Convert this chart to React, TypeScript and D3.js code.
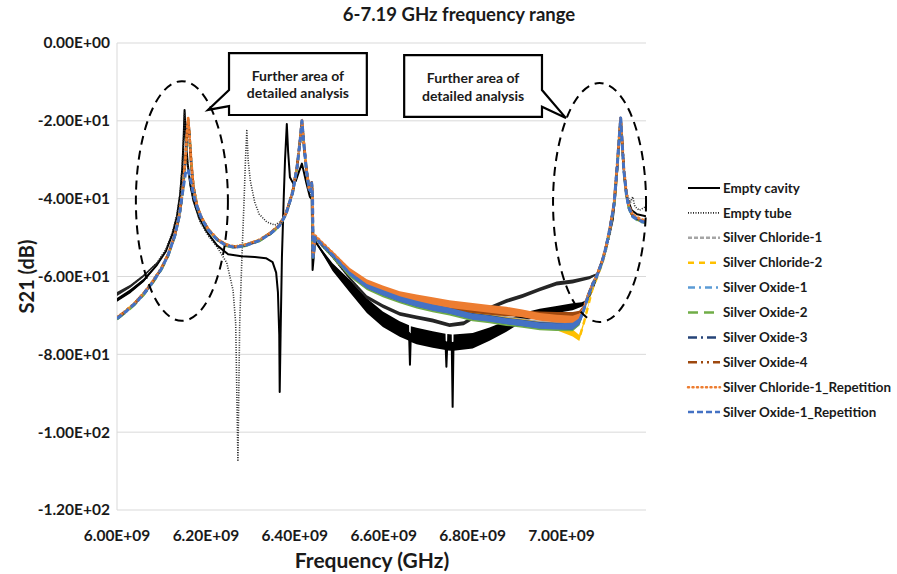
import React from "react";
import * as d3 from "d3";

const W = 897;
const H = 574;
const margin = { top: 43, right: 251, bottom: 64, left: 117 };

const title = "6-7.19 GHz frequency range";
const xTicks = [6.0, 6.2, 6.4, 6.6, 6.8, 7.0];
const yTicks = [0, -20, -40, -60, -80, -100, -120];

// frequency grid (GHz) shared by all the sample traces
const sampleFreq = [
  6.000, 6.020, 6.040, 6.060, 6.080, 6.100, 6.115, 6.130, 6.140, 6.148, 6.154, 6.158, 6.160, 6.163, 6.167,
  6.172, 6.180, 6.190, 6.205, 6.225, 6.245, 6.265, 6.290, 6.320, 6.345, 6.365, 6.380, 6.395, 6.405, 6.412,
  6.416, 6.420, 6.426, 6.432, 6.436, 6.438, 6.440, 6.441, 6.446, 6.450, 6.485, 6.524, 6.562, 6.598, 6.636,
  6.674, 6.710, 6.748, 6.800, 6.838, 6.876, 6.912, 6.951, 6.989, 7.025, 7.040, 7.050, 7.060, 7.070, 7.079,
  7.092, 7.101, 7.110, 7.118, 7.125, 7.130, 7.133, 7.136, 7.140, 7.146, 7.152, 7.160, 7.170, 7.180, 7.190,
];

// S21 (dB) for each sample, on sampleFreq
const silverChloride1 = [
  -70.7, -68.9, -66.9, -64.4, -61.4, -57.9, -54.4, -49.4, -44.4, -37.8, -29.8, -22.3, -19.6, -23.8, -30.8,
  -37.0, -41.9, -44.9, -47.9, -50.4, -51.9, -52.4, -51.9, -50.7, -48.9, -46.9, -43.9, -38.4, -31.9, -24.9,
  -20.0, -25.4, -32.4, -37.4, -37.9, -35.9, -39.9, -54.8, -49.8, -50.3, -54.2, -58.9, -62.0, -63.8, -65.3,
  -66.5, -67.5, -68.3, -69.6, -70.2, -71.0, -71.5, -72.2, -72.5, -72.6, -71.4, -68.4, -64.9, -61.9, -59.9,
  -55.9, -51.9, -46.9, -41.4, -31.9, -23.9, -19.3, -24.9, -32.4, -38.9, -42.4, -44.4, -45.2, -45.7, -46.1,
];
const silverChloride2 = [
  -70.6, -68.8, -66.8, -64.3, -61.3, -57.8, -54.3, -49.3, -44.3, -37.8, -29.8, -22.5, -19.6, -23.8, -30.8,
  -37.0, -41.8, -44.8, -47.8, -50.3, -51.8, -52.3, -51.8, -50.6, -48.8, -46.8, -43.8, -38.3, -31.8, -24.8,
  -20.0, -25.3, -32.3, -37.3, -37.8, -35.8, -39.8, -54.8, -49.8, -50.3, -54.3, -59.0, -62.3, -64.0, -65.6,
  -66.8, -67.8, -68.6, -70.0, -70.6, -71.3, -71.8, -72.5, -73.0, -74.5, -75.8, -72.0, -67.5, -63.0, -60.5,
  -56.5, -52.3, -47.3, -41.8, -32.3, -24.3, -19.5, -25.0, -32.5, -39.0, -42.5, -44.5, -45.3, -45.8, -46.2,
];
const silverOxide1 = [
  -70.9, -69.1, -67.1, -64.6, -61.6, -58.1, -54.6, -49.6, -44.6, -38.0, -30.0, -22.5, -20.0, -24.0, -31.0,
  -37.2, -42.0, -45.0, -48.0, -50.5, -52.0, -52.5, -52.0, -50.8, -49.0, -47.0, -44.0, -38.5, -32.0, -25.0,
  -20.2, -25.5, -32.5, -37.5, -38.0, -36.0, -40.0, -55.0, -50.0, -50.5, -54.6, -59.4, -62.6, -64.4, -66.0,
  -67.2, -68.2, -69.0, -70.5, -71.0, -71.7, -72.2, -72.8, -73.0, -73.0, -71.8, -68.7, -65.2, -62.2, -60.2,
  -56.2, -52.2, -47.2, -41.7, -32.2, -24.2, -19.5, -25.2, -32.7, -39.2, -42.7, -44.7, -45.5, -46.0, -46.4,
];
const silverOxide2 = [
  -71.0, -69.2, -67.2, -64.7, -61.7, -58.2, -54.7, -49.7, -44.7, -38.2, -30.2, -22.8, -20.2, -24.2, -31.2,
  -37.3, -42.1, -45.1, -48.1, -50.6, -52.1, -52.6, -52.1, -50.9, -49.1, -47.1, -44.1, -38.6, -32.1, -25.1,
  -20.3, -25.6, -32.6, -37.6, -38.1, -36.1, -40.1, -55.1, -50.1, -50.6, -54.9, -59.7, -62.9, -64.6, -66.2,
  -67.4, -68.4, -69.2, -70.7, -71.2, -71.9, -72.4, -73.0, -73.2, -73.2, -71.8, -68.6, -65.1, -62.1, -60.1,
  -56.1, -52.1, -47.1, -41.6, -32.1, -24.1, -19.6, -25.1, -32.6, -39.1, -42.6, -44.6, -45.4, -45.9, -46.3,
];
const silverOxide3 = [
  -70.8, -69.0, -67.0, -64.5, -61.5, -58.0, -54.5, -49.5, -44.5, -38.0, -30.0, -22.5, -19.8, -24.0, -31.0,
  -37.1, -42.0, -45.0, -48.0, -50.5, -52.0, -52.5, -52.0, -50.8, -49.0, -47.0, -44.0, -38.5, -32.0, -25.0,
  -20.0, -25.5, -32.5, -37.5, -38.0, -36.0, -40.0, -55.0, -50.0, -50.5, -54.5, -59.2, -62.4, -64.1, -65.7,
  -66.9, -67.9, -68.7, -70.2, -70.7, -71.4, -71.9, -72.5, -72.7, -72.7, -71.4, -68.4, -64.9, -61.9, -59.9,
  -55.9, -51.9, -46.9, -41.4, -31.9, -23.9, -19.3, -24.9, -32.4, -38.9, -42.4, -44.4, -45.2, -45.7, -46.1,
];
const silverOxide4 = [
  -70.6, -68.8, -66.8, -64.3, -61.3, -57.8, -54.3, -49.3, -44.3, -37.8, -29.8, -22.3, -19.7, -23.8, -30.8,
  -37.0, -41.8, -44.8, -47.8, -50.3, -51.8, -52.3, -51.8, -50.6, -48.8, -46.8, -43.8, -38.3, -31.8, -24.8,
  -20.0, -25.3, -32.3, -37.3, -37.8, -35.8, -39.8, -54.8, -49.8, -50.3, -54.0, -58.7, -61.8, -63.5, -65.0,
  -66.0, -66.9, -67.6, -68.6, -69.0, -69.4, -69.6, -69.8, -69.9, -70.0, -69.6, -67.8, -64.7, -61.8, -59.8,
  -55.8, -51.8, -46.8, -41.3, -31.8, -23.8, -19.3, -24.8, -32.3, -38.8, -42.3, -44.3, -45.1, -45.6, -46.0,
];
const silverChloride1Rep = [
  -70.5, -68.8, -66.8, -64.3, -61.3, -57.8, -54.3, -49.3, -44.3, -37.5, -29.5, -22.0, -19.3, -23.5, -30.5,
  -37.0, -41.8, -44.8, -47.8, -50.3, -51.8, -52.3, -51.8, -50.6, -48.8, -46.8, -43.8, -38.3, -31.8, -24.8,
  -19.8, -25.3, -32.3, -37.3, -37.8, -35.8, -39.8, -54.5, -49.5, -50.0, -53.9, -58.5, -61.5, -63.2, -64.7,
  -65.6, -66.3, -67.1, -67.8, -68.3, -68.8, -69.5, -70.4, -70.8, -71.1, -70.4, -68.0, -64.8, -61.8, -59.8,
  -55.8, -51.8, -46.8, -41.3, -31.5, -23.5, -19.0, -24.5, -32.0, -38.5, -42.0, -44.0, -44.8, -45.3, -45.8,
];
const silverOxide1Rep = [
  -70.8, -69.0, -67.0, -64.5, -61.5, -58.0, -54.5, -49.5, -44.5, -38.0, -33.5, -33.0, -32.5, -34.0, -36.0,
  -39.0, -42.0, -45.0, -48.0, -50.5, -52.0, -52.5, -52.0, -50.8, -49.0, -47.0, -44.0, -38.5, -32.0, -25.0,
  -20.0, -25.5, -32.5, -37.5, -38.0, -36.0, -40.0, -55.0, -50.0, -50.5, -54.5, -59.3, -62.5, -64.2, -65.8,
  -67.0, -68.0, -68.8, -70.3, -70.8, -71.5, -72.0, -72.6, -72.8, -72.8, -71.5, -68.5, -65.0, -62.0, -60.0,
  -56.0, -52.0, -47.0, -41.5, -32.0, -24.0, -19.3, -25.0, -32.5, -39.0, -42.5, -44.5, -45.3, -45.8, -46.2,
];

// half width (dB) of the measurement noise band on sampleFreq
const sampleNoise = [
  0, 0, 0, 0, 0, 0, 0, 0, 0, 0, 0, 0, 0, 0, 0,
  0, 0, 0, 0, 0, 0, 0, 0, 0, 0, 0, 0, 0, 0, 0,
  0, 0, 0, 0, 0, 0, 0, 0, 0, 0.1, 0.3, 0.5, 0.6, 0.7, 0.7,
  0.8, 0.8, 0.8, 0.8, 0.8, 0.8, 0.8, 0.8, 0.8, 0.9, 0.8, 0.5, 0.3, 0.2, 0,
  0, 0, 0, 0, 0, 0, 0, 0, 0, 0, 0, 0, 0, 0, 0,
];
const chlorideRepNoise = [
  0, 0, 0, 0, 0, 0, 0, 0, 0, 0, 0, 0, 0, 0, 0,
  0, 0, 0, 0, 0, 0, 0, 0, 0, 0, 0, 0, 0, 0, 0,
  0, 0, 0, 0, 0, 0, 0, 0, 0, 0.2, 0.4, 0.7, 0.8, 0.9, 0.9,
  1.0, 1.0, 1.0, 1.0, 1.0, 1.0, 1.0, 1.0, 1.0, 1.0, 0.9, 0.6, 0.4, 0.2, 0,
  0, 0, 0, 0, 0, 0, 0, 0, 0, 0, 0, 0, 0, 0, 0,
];

// [GHz, dB, noise half width]
const emptyCavity: [number, number, number][] = [
  [6.000, -66.0, 0.5], [6.030, -63.8, 0.5], [6.060, -61.0, 0.4], [6.090, -57.0, 0.2], [6.110, -53.5, 0],
  [6.125, -49.0, 0], [6.135, -44.5, 0], [6.142, -39.0, 0], [6.147, -32.0, 0], [6.150, -24.0, 0],
  [6.152, -17.2, 0], [6.155, -25.0, 0], [6.159, -31.0, 0], [6.165, -36.5, 0], [6.172, -40.5, 0],
  [6.185, -45.0, 0], [6.202, -48.5, 0], [6.225, -52.0, 0], [6.250, -54.3, 0], [6.280, -54.8, 0],
  [6.310, -55.0, 0], [6.335, -55.3, 0], [6.350, -56.3, 0], [6.358, -59.0, 0], [6.362, -64.0, 0],
  [6.365, -75.0, 0], [6.366, -89.7, 0], [6.368, -75.0, 0], [6.371, -55.0, 0], [6.375, -40.0, 0],
  [6.378, -30.0, 0], [6.382, -20.8, 0], [6.385, -28.0, 0], [6.389, -34.5, 0], [6.396, -36.0, 0],
  [6.402, -35.5, 0], [6.408, -33.5, 0], [6.416, -31.0, 0], [6.426, -36.0, 0], [6.434, -39.6, 0],
  [6.438, -40.0, 0], [6.440, -58.3, 0], [6.446, -50.6, 0], [6.449, -51.5, 0.2], [6.485, -57.6, 1.0],
  [6.524, -62.5, 1.6], [6.562, -67.5, 1.9], [6.598, -71.0, 2.0], [6.636, -73.5, 2.0], [6.657, -74.5, 2.0],
  [6.659, -82.7, 0], [6.661, -74.8, 2.0], [6.674, -75.3, 2.1], [6.710, -76.2, 2.1], [6.739, -76.8, 2.1],
  [6.741, -83.2, 0], [6.743, -76.9, 2.1], [6.753, -77.0, 2.1], [6.755, -93.5, 0], [6.757, -77.0, 2.1],
  [6.800, -76.5, 2.0], [6.838, -74.8, 1.7], [6.876, -72.8, 1.4], [6.912, -70.5, 1.1], [6.951, -69.2, 0.9],
  [6.989, -68.5, 0.9], [7.025, -67.8, 0.9], [7.045, -67.2, 0.6], [7.056, -66.5, 0.4], [7.065, -64.5, 0.2],
  [7.075, -61.5, 0], [7.085, -58.0, 0], [7.095, -54.5, 0], [7.105, -50.5, 0], [7.115, -45.5, 0],
  [7.122, -38.0, 0], [7.128, -28.0, 0], [7.133, -20.0, 0], [7.137, -27.0, 0], [7.142, -35.0, 0],
  [7.148, -40.0, 0], [7.158, -43.0, 0], [7.170, -44.0, 0], [7.190, -44.5, 0],
];
const emptyTube: [number, number, number][] = [
  [6.000, -64.5, 0.5], [6.030, -62.5, 0.4], [6.060, -59.8, 0.3], [6.090, -56.5, 0.2], [6.110, -53.0, 0],
  [6.125, -48.5, 0], [6.135, -44.0, 0], [6.142, -38.5, 0], [6.147, -31.5, 0], [6.150, -24.0, 0],
  [6.152, -18.0, 0], [6.155, -25.0, 0], [6.159, -31.0, 0], [6.165, -36.5, 0], [6.172, -40.5, 0],
  [6.187, -46.0, 0], [6.205, -49.5, 0], [6.225, -52.4, 0], [6.247, -56.5, 0], [6.261, -63.5, 0],
  [6.267, -72.0, 0], [6.272, -107.2, 0], [6.276, -72.0, 0], [6.281, -55.0, 0], [6.286, -40.0, 0],
  [6.289, -30.0, 0], [6.292, -22.5, 0], [6.295, -30.0, 0], [6.300, -35.5, 0], [6.310, -41.0, 0],
  [6.320, -44.0, 0], [6.337, -46.0, 0], [6.355, -46.8, 0], [6.373, -45.5, 0], [6.385, -42.0, 0],
  [6.395, -37.5, 0], [6.405, -31.0, 0], [6.412, -25.0, 0], [6.416, -21.0, 0], [6.420, -26.0, 0],
  [6.426, -33.0, 0], [6.432, -38.0, 0], [6.436, -38.5, 0], [6.440, -42.0, 0], [6.441, -55.0, 0],
  [6.446, -50.5, 0], [6.449, -50.8, 0], [6.485, -55.0, 0.3], [6.524, -60.5, 0.4], [6.562, -65.3, 0.5],
  [6.598, -67.6, 0.5], [6.636, -69.6, 0.5], [6.674, -70.5, 0.5], [6.710, -71.3, 0.5], [6.748, -72.5, 0.5],
  [6.780, -72.0, 0.5], [6.810, -70.0, 0.5], [6.840, -68.0, 0.5], [6.876, -66.3, 0.5], [6.912, -65.0, 0.5],
  [6.951, -63.3, 0.5], [6.989, -61.8, 0.5], [7.025, -61.3, 0.5], [7.063, -60.3, 0.4], [7.081, -59.3, 0.2],
  [7.092, -56.5, 0], [7.101, -53.0, 0], [7.110, -48.5, 0], [7.118, -42.5, 0], [7.125, -33.0, 0],
  [7.130, -25.0, 0], [7.133, -20.0, 0], [7.136, -26.0, 0], [7.140, -33.0, 0], [7.146, -38.5, 0],
  [7.155, -41.0, 0], [7.160, -39.5, 0], [7.165, -42.0, 0], [7.175, -43.0, 0], [7.190, -42.0, 0],
];

// annotation geometry in data units: [GHz centre, dB centre, GHz half width, dB half height]
const leftEllipse = [6.146, -40.6, 0.1035, 30.8];
const rightEllipse = [7.0855, -41.0, 0.1046, 30.7];
const calloutText = ["Further area of", "detailed analysis"];

type Pt = [number, number, number];

const series = [
  { name: "Empty cavity", color: "#000000", dash: "", width: 2, pts: emptyCavity },
  { name: "Empty tube", color: "#262626", dash: "1 1.5", width: 1.6, pts: emptyTube },
  { name: "Silver Chloride-1", color: "#A5A5A5", dash: "4 2", width: 2.5, vals: silverChloride1, noise: sampleNoise },
  { name: "Silver Chloride-2", color: "#FFC000", dash: "6 5", width: 2.5, vals: silverChloride2, noise: sampleNoise },
  { name: "Silver Oxide-1", color: "#5B9BD5", dash: "7 4 2 4", width: 2.5, vals: silverOxide1, noise: sampleNoise },
  { name: "Silver Oxide-2", color: "#70AD47", dash: "10 6", width: 2.5, vals: silverOxide2, noise: sampleNoise },
  { name: "Silver Oxide-3", color: "#264478", dash: "9 4 2 4", width: 2.5, vals: silverOxide3, noise: sampleNoise },
  { name: "Silver Oxide-4", color: "#9E480E", dash: "9 4 2 4 2 4", width: 2.5, vals: silverOxide4, noise: sampleNoise },
  { name: "Silver Chloride-1_Repetition", color: "#ED7D31", dash: "1 3.5", width: 2.8, vals: silverChloride1Rep, noise: chlorideRepNoise },
  { name: "Silver Oxide-1_Repetition", color: "#4472C4", dash: "6 3", width: 3, vals: silverOxide1Rep, noise: sampleNoise },
].map((s) => ({
  ...s,
  pts: (s.pts ?? sampleFreq.map((f, i) => [f, s.vals![i], s.noise![i]])) as Pt[],
}));

const sci = (v: number) => {
  if (Math.abs(v) < 1e-9) return "0.00E+00";
  const e = Math.floor(Math.log10(Math.abs(v)) + 1e-9);
  const m = v / Math.pow(10, e);
  return `${m.toFixed(2)}E${e < 0 ? "-" : "+"}${String(Math.abs(e)).padStart(2, "0")}`;
};

const FONT = "Lato, 'Open Sans', sans-serif";

export default function App() {
  const x = d3.scaleLinear().domain([6.0, 7.19]).range([margin.left, W - margin.right]);
  const y = d3.scaleLinear().domain([-120, 0]).range([H - margin.bottom, margin.top]);

  const line = d3
    .line<Pt>()
    .x((d) => x(d[0]))
    .y((d) => y(d[1]));
  const band = d3
    .area<Pt>()
    .x((d) => x(d[0]))
    .y0((d) => y(d[1] - d[2]))
    .y1((d) => y(d[1] + d[2]));

  const ellipse = (e: number[]) => ({
    cx: x(e[0]),
    cy: y(e[1]),
    rx: x(e[0] + e[2]) - x(e[0]),
    ry: y(e[1] - e[3]) - y(e[1]),
  });

  // callout boxes (GHz / dB corners)
  const lb = { x0: x(6.252), x1: x(6.562), y0: y(-2.6), y1: y(-18.5) };
  const leftCallout = `M${lb.x0},${lb.y0} H${lb.x1} V${lb.y1} H${lb.x0} V${y(-16.2)} L${x(6.2047)},${y(-17.2)} L${lb.x0},${y(-12.1)} Z`;
  const rb = { x0: x(6.646), x1: x(6.956), y0: y(-3.1), y1: y(-19.0) };
  const rightCallout = `M${rb.x0},${rb.y0} H${rb.x1} V${y(-12.1)} L${x(7.01)},${y(-19.3)} L${rb.x1},${y(-16.4)} V${rb.y1} H${rb.x0} Z`;

  const x0 = margin.left;
  const x1 = W - margin.right;

  return (
    <svg
      width={W}
      height={H}
      style={{ position: "fixed", left: 0, top: 0, background: "#fff", fontFamily: FONT }}
    >
      <defs>
        <clipPath id="plot">
          <rect x={x0} y={margin.top - 2} width={x1 - x0} height={H - margin.bottom - margin.top + 4} />
        </clipPath>
      </defs>
      <rect width={W} height={H} fill="#fff" />

      <text x={459} y={21} textAnchor="middle" fontSize={18.5} fontWeight={700} fill="#1a1a1a">
        {title}
      </text>

      {yTicks.map((t) => (
        <g key={t}>
          <line x1={x0} x2={x1} y1={y(t)} y2={y(t)} stroke="#D9D9D9" strokeWidth={1} />
          <text x={x0 - 7} y={y(t)} dy="0.35em" textAnchor="end" fontSize={15.5} fontWeight={700} fill="#1a1a1a">
            {sci(t)}
          </text>
        </g>
      ))}
      <line x1={x0} x2={x0} y1={y(0)} y2={y(-120)} stroke="#D9D9D9" strokeWidth={1} />
      {xTicks.map((t) => (
        <text key={t} x={x(t)} y={541} textAnchor="middle" fontSize={15.5} fontWeight={700} fill="#1a1a1a">
          {sci(t * 1e9)}
        </text>
      ))}

      <text x={372} y={568} textAnchor="middle" fontSize={21} fontWeight={700} fill="#1a1a1a">
        Frequency (GHz)
      </text>
      <text
        transform={`translate(34,${y(-60)}) rotate(-90)`}
        textAnchor="middle"
        fontSize={20}
        fontWeight={700}
        fill="#1a1a1a"
      >
        S21 (dB)
      </text>

      <g clipPath="url(#plot)">
        {series.map((s) => (
          <g key={s.name}>
            <path d={band(s.pts) ?? ""} fill={s.color} stroke="none" />
            <path
              d={line(s.pts) ?? ""}
              fill="none"
              stroke={s.color}
              strokeWidth={s.width}
              strokeDasharray={s.dash || undefined}
              strokeLinecap={s.name.includes("Repetition") && s.dash.startsWith("1") ? "round" : "butt"}
              strokeLinejoin="round"
            />
          </g>
        ))}
      </g>

      {[leftEllipse, rightEllipse].map((e, i) => {
        const el = ellipse(e);
        return (
          <ellipse key={i} {...el} fill="none" stroke="#000" strokeWidth={2} strokeDasharray="9 6" />
        );
      })}

      <path d={leftCallout} fill="#fff" stroke="#000" strokeWidth={2.2} strokeLinejoin="miter" />
      <path d={rightCallout} fill="#fff" stroke="#000" strokeWidth={2.2} strokeLinejoin="miter" />
      {calloutText.map((t, i) => (
        <g key={t}>
          <text x={x(6.407)} y={y(-8.5 - i * 4.3)} dy="0.35em" textAnchor="middle" fontSize={14} fontWeight={700} fill="#1a1a1a">
            {t}
          </text>
          <text x={x(6.801)} y={y(-9.0 - i * 4.6)} dy="0.35em" textAnchor="middle" fontSize={14} fontWeight={700} fill="#1a1a1a">
            {t}
          </text>
        </g>
      ))}

      {series.map((s, i) => {
        const ly = 188 + i * 24.9;
        return (
          <g key={s.name}>
            <line
              x1={688}
              x2={720}
              y1={ly}
              y2={ly}
              stroke={s.color}
              strokeWidth={s.width > 2 ? 2.5 : s.width}
              strokeDasharray={s.dash || undefined}
              strokeLinecap={s.dash.startsWith("1 ") && s.width > 2 ? "round" : "butt"}
            />
            <text x={723} y={ly} dy="0.35em" fontSize={13.4} fontWeight={700} fill="#1a1a1a">
              {s.name}
            </text>
          </g>
        );
      })}
    </svg>
  );
}
